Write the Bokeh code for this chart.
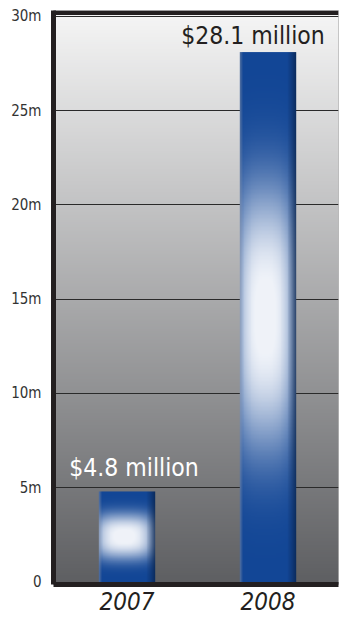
import numpy as np
from bokeh.plotting import figure
from bokeh.models import FixedTicker, BoxAnnotation, ColumnDataSource, Range1d
from bokeh.core.properties import value
from bokeh.embed import file_html
from bokeh.resources import INLINE

# ---- data ----
years = ["2007", "2008"]
amounts = [4.8, 28.1]  # $ million
value_labels = ["$4.8 million", "$28.1 million"]
y_ticks = [0, 5, 10, 15, 20, 25, 30]
y_tick_labels = ["0", "5m", "10m", "15m", "20m", "25m", "30m"]

FONT = "DejaVu Sans Condensed"
INK = "#231f20"
X0 = -0.0213
Y0 = -0.133
Y_TOP = 30.305
BAR_W = 0.4

p = figure(width=339, height=617, output_backend="svg", toolbar_location=None,
           title=None, x_range=Range1d(X0, len(years)), y_range=Range1d(Y0, Y_TOP),
           min_border_left=53, min_border_right=1, min_border_top=10,
           min_border_bottom=33)
p.border_fill_color = "white"
p.outline_line_color = "#b8b8b8"
p.outline_line_width = 1


def pack(rgb):
    h, w, _ = rgb.shape
    img = np.empty((h, w), dtype=np.uint32)
    view = img.view(dtype=np.uint8).reshape((h, w, 4))
    view[:, :, 0:3] = np.clip(rgb, 0, 255).astype(np.uint8)
    view[:, :, 3] = 255
    return img


# background gradient (light top -> dark bottom)
rows = 400
t = np.linspace(0, 1, rows)[:, None, None]
top_c = np.array([246, 246, 246], dtype=float)[None, None, :]
bot_c = np.array([94, 95, 98], dtype=float)[None, None, :]
bg = pack(bot_c * (1 - t) + top_c * t)
p.image_rgba(image=[bg], x=X0, y=Y0, dw=len(years) - X0, dh=Y_TOP - Y0, level="image")


# bar gradient (blue edges, white glow band in the middle)
def bar_image(h=400, w=64):
    u = (np.arange(w) + 0.5) / w
    v = (np.arange(h) + 0.5) / h
    W = np.exp(-np.abs((v - 0.5) / 0.25) ** 2.8)[:, None]
    H = np.clip(1 - np.abs((u - 0.45) / 0.58) ** 3, 0, 1)[None, :]
    a = np.clip(W * H, 0, 0.97)
    base = np.array([18, 70, 150], dtype=float)
    white = np.array([246, 248, 252], dtype=float)
    rgb = base[None, None, :] * (1 - a[:, :, None]) + white[None, None, :] * a[:, :, None]
    D = 1 - 0.45 * np.clip((u - 0.82) / 0.18, 0, 1) ** 1.5
    rgb = rgb * D[None, :, None]
    bev = np.clip(1 - u / 0.05, 0, 1)[None, :, None] * 0.55
    gray = np.array([140, 150, 170], dtype=float)[None, None, :]
    rgb = rgb * (1 - bev) + gray * bev
    return pack(rgb)


bimg = bar_image()
bar_src = ColumnDataSource(dict(
    image=[bimg for _ in years],
    x=[i + 0.5 - BAR_W / 2 for i in range(len(years))],
    dh=amounts,
))
p.image_rgba(image="image", x="x", y=0, dw=BAR_W, dh="dh", source=bar_src)

# value labels
lab_src = ColumnDataSource(dict(
    x=[i + 0.5 for i in range(len(years))],
    y=amounts,
    text=value_labels,
    color=["white", INK],
    xo=[7, -15],
    yo=[-24, -17],
))
p.text(x="x", y="y", text="text", source=lab_src, text_color="color",
       x_offset="xo", y_offset="yo", text_align="center",
       text_baseline="alphabetic", text_font=value(FONT),
       text_font_size="24.5px")

# top frame bar
p.add_layout(BoxAnnotation(bottom=30.07, fill_color=INK, fill_alpha=1,
                           line_color=None, level="overlay"))

# axes
p.yaxis.ticker = FixedTicker(ticks=y_ticks)
p.yaxis.major_label_overrides = {t_: s for t_, s in zip(y_ticks, y_tick_labels)}
p.yaxis.axis_line_color = INK
p.yaxis.axis_line_width = 5
p.yaxis.major_tick_line_color = None
p.yaxis.minor_tick_line_color = None
p.yaxis.major_label_text_font = FONT
p.yaxis.major_label_text_font_size = "15px"
p.yaxis.major_label_text_color = "#333333"
p.yaxis.major_label_standoff = 6

xt = [i + 0.5 for i in range(len(years))]
p.xaxis.ticker = FixedTicker(ticks=xt)
p.xaxis.major_label_overrides = {t_: s for t_, s in zip(xt, years)}
p.xaxis.axis_line_color = INK
p.xaxis.axis_line_width = 5
p.xaxis.major_tick_line_color = None
p.xaxis.minor_tick_line_color = None
p.xaxis.major_label_text_font = FONT
p.xaxis.major_label_text_font_style = "italic"
p.xaxis.major_label_text_font_size = "24px"
p.xaxis.major_label_text_color = INK
p.xaxis.major_label_standoff = 1

p.xgrid.visible = False
p.ygrid.ticker = FixedTicker(ticks=y_ticks[1:])
p.ygrid.grid_line_color = "#2a2a2a"
p.ygrid.grid_line_width = 1

open("out.html", "w").write(file_html(p, INLINE))
